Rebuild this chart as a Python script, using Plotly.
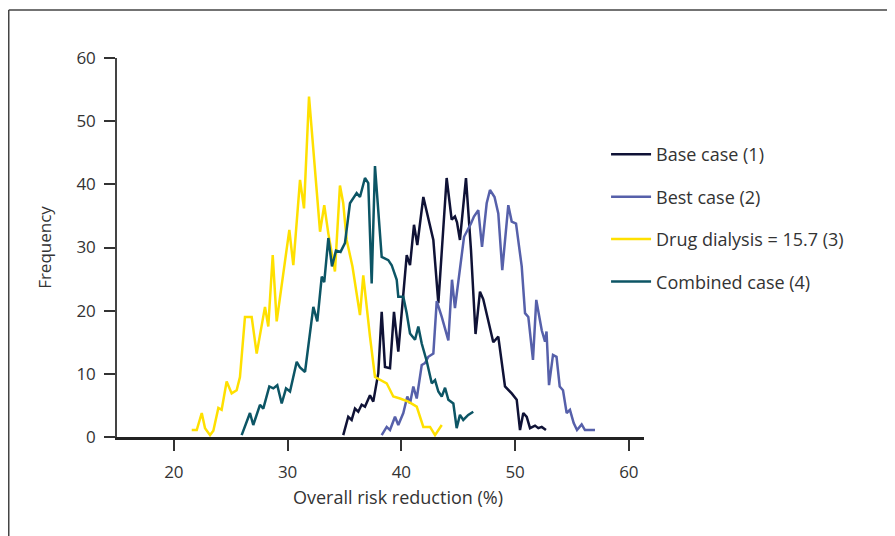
import plotly.graph_objects as go

# Drug dialysis = 15.7 (3)
drug_x = [21.57, 22.01, 22.45, 22.74, 23.18, 23.47, 23.91, 24.20, 24.64, 25.08, 25.52, 25.81,
          26.25, 26.84, 27.28, 27.72, 28.01, 28.30, 28.69, 29.04, 29.48, 30.15, 30.50, 31.09,
          31.44, 31.88, 32.85, 33.22, 33.58, 34.16, 34.60, 34.89, 35.19, 35.70, 36.36, 36.65,
          37.24, 37.68, 38.71, 39.29, 39.88, 40.61, 41.35, 41.93, 42.52, 42.96, 43.55]
drug_y = [1.1, 1.1, 3.8, 1.4, 0.3, 1.0, 4.6, 4.3, 8.8, 6.9, 7.4, 9.5,
          19.0, 19.0, 13.2, 18.0, 20.6, 17.5, 28.8, 18.3, 23.8, 32.8, 27.2, 40.7,
          36.2, 53.9, 32.5, 36.7, 32.2, 26.2, 39.8, 37.0, 31.2, 27.0, 19.3, 25.6,
          15.9, 9.5, 8.5, 6.4, 6.1, 5.6, 4.8, 1.6, 1.6, 0.3, 1.9]

# Combined case (4)
comb_x = [25.96, 26.34, 26.69, 26.98, 27.57, 27.86, 28.39, 28.74, 29.09, 29.48, 29.86, 30.21,
          30.80, 31.09, 31.53, 32.26, 32.61, 33.00, 33.22, 33.58, 33.90, 34.25, 34.65, 35.04,
          35.48, 36.07, 36.36, 36.80, 37.09, 37.39, 37.68, 38.27, 38.85, 39.15, 39.59, 39.73,
          40.17, 40.47, 40.76, 41.20, 41.49, 41.79, 42.23, 42.67, 42.96, 43.25, 43.55, 43.84,
          44.13, 44.57, 44.86, 45.15, 45.44, 45.88, 46.32]
comb_y = [0.3, 2.0, 3.8, 1.9, 5.1, 4.5, 8.0, 7.7, 8.2, 5.3, 7.7, 7.2,
          11.9, 11.0, 10.3, 20.6, 18.3, 25.4, 24.5, 31.5, 27.0, 29.5, 29.3, 30.7,
          37.0, 38.6, 38.0, 41.0, 40.2, 24.3, 42.9, 28.5, 28.0, 27.2, 24.9, 22.2,
          22.2, 19.6, 16.4, 15.4, 17.5, 14.8, 12.0, 8.5, 9.0, 7.2, 6.4, 7.8,
          5.9, 5.3, 1.4, 3.5, 2.7, 3.5, 4.0]

# Base case (1)
base_x = [34.89, 35.33, 35.63, 35.92, 36.21, 36.51, 36.80, 37.24, 37.53, 37.97, 38.27, 38.56,
          39.00, 39.35, 39.73, 40.05, 40.47, 40.76, 41.11, 41.40, 41.93, 42.37, 42.81, 43.25,
          43.98, 44.42, 44.71, 44.89, 45.15, 45.68, 46.12, 46.52, 46.91, 47.20, 47.62, 48.08,
          48.52, 49.11, 49.70, 50.14, 50.43, 50.72, 51.02, 51.31, 51.75, 52.04, 52.34, 52.71]
base_y = [0.3, 3.2, 2.7, 4.5, 4.0, 5.1, 4.8, 6.6, 5.6, 10.1, 19.8, 11.1,
          10.9, 19.8, 13.5, 20.0, 28.8, 27.2, 33.6, 30.4, 38.0, 34.6, 31.2, 21.2,
          41.0, 34.4, 34.9, 34.0, 31.2, 41.0, 29.6, 16.3, 23.0, 21.8, 18.5, 15.0,
          15.9, 8.0, 6.9, 5.9, 1.1, 3.8, 3.2, 1.4, 1.8, 1.4, 1.6, 1.1]

# Best case (2)
best_x = [38.27, 38.71, 39.00, 39.44, 39.73, 40.17, 40.52, 40.76, 41.05, 41.35, 41.79, 42.08,
          42.37, 42.81, 43.11, 43.55, 44.13, 44.45, 44.71, 45.51, 46.12, 46.38, 46.76, 47.09,
          47.50, 47.79, 48.19, 48.52, 48.87, 49.40, 49.70, 50.08, 50.58, 50.87, 51.16, 51.57,
          51.86, 52.34, 52.63, 52.76, 52.98, 53.33, 53.64, 53.92, 54.21, 54.53, 54.82, 55.15,
          55.44, 55.85, 56.14, 57.02]
best_y = [0.3, 1.6, 1.1, 3.2, 1.9, 3.8, 6.4, 5.3, 8.0, 6.1, 11.4, 11.7,
          12.7, 13.2, 21.5, 19.0, 15.3, 24.9, 20.4, 31.7, 33.8, 34.9, 35.9, 30.1,
          37.0, 39.1, 38.0, 35.4, 26.4, 36.7, 34.1, 33.8, 27.0, 19.6, 19.0, 12.2,
          21.7, 16.9, 15.1, 16.7, 8.2, 13.0, 12.7, 8.0, 7.4, 3.8, 4.3, 2.2,
          1.1, 2.0, 1.1, 1.1]

x_ticks = [20, 30, 40, 50, 60]
y_ticks = [0, 10, 20, 30, 40, 50, 60]

series = [
    ("Base case (1)", base_x, base_y, "#0f1236"),
    ("Best case (2)", best_x, best_y, "#5660aa"),
    ("Drug dialysis = 15.7 (3)", drug_x, drug_y, "#ffe000"),
    ("Combined case (4)", comb_x, comb_y, "#0c5565"),
]

fig = go.Figure()
for name, xs, ys, col in series:
    fig.add_trace(go.Scatter(x=xs, y=ys, mode="lines", name=name, legendgroup=name,
                             line=dict(color=col, width=2.5)))

FONT = "Open Sans"
fig.update_layout(
    width=887, height=528,
    margin=dict(l=109, r=251, t=50, b=99),
    paper_bgcolor="white", plot_bgcolor="white",
    font=dict(family=FONT, size=17, color="#333333"),
    showlegend=True,
    legend=dict(x=0.928, xanchor="left", y=0.794, yanchor="top",
                font=dict(size=18, color="#333333"), tracegroupgap=16,
                bgcolor="rgba(0,0,0,0)", itemwidth=40),
    xaxis=dict(range=[15, 61.33], tickvals=x_ticks, showgrid=False, zeroline=False,
               showline=True, linecolor="#222222", linewidth=2.5,
               ticks="outside", ticklen=11, tickwidth=1.5, tickcolor="#333333",
               ticklabelstandoff=7, tickfont=dict(size=17)),
    yaxis=dict(range=[0, 60], tickvals=y_ticks, showgrid=False, zeroline=False,
               showline=True, linecolor="#444444", linewidth=1.5,
               ticks="outside", ticklen=11, tickwidth=1.5, tickcolor="#333333",
               ticklabelstandoff=5, tickfont=dict(size=17),
               title=dict(text="Frequency", font=dict(size=17), standoff=20)),
    annotations=[
        dict(text="Overall risk reduction (%)", xref="paper", yref="paper",
             x=0.533, y=-0.158, xanchor="center", yanchor="middle", showarrow=False,
             font=dict(size=18, color="#333333")),
    ],
    shapes=[
        dict(type="line", xref="paper", yref="paper", x0=-0.2054, x1=-0.2054, y0=-0.3, y1=1.1266,
             line=dict(color="#444444", width=1.5)),
        dict(type="line", xref="paper", yref="paper", x0=-0.2054, x1=1.5, y0=1.1266, y1=1.1266,
             line=dict(color="#444444", width=1.5)),
    ],
)

fig.write_html("out.html")
